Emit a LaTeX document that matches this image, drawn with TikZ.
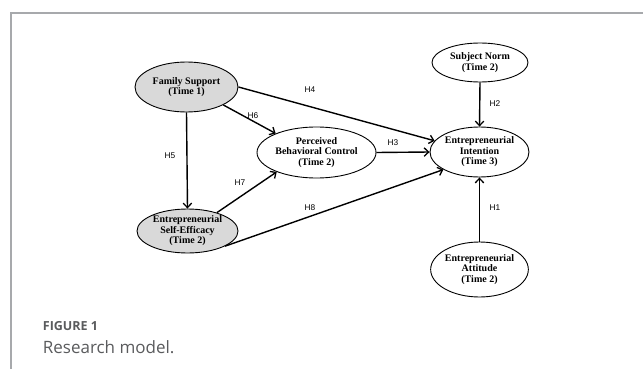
\documentclass[tikz,border=0pt]{standalone}
\usepackage{fontspec}
\usetikzlibrary{shapes.geometric,arrows.meta}
\newfontfamily\diagfont{Liberation Serif}
\newfontfamily\hfont{Liberation Sans}
\newfontfamily\capfont{Open Sans}
\definecolor{framegray}{HTML}{A7A9AC}
\definecolor{capgray}{HTML}{5A5B5D}
\definecolor{nodegray}{HTML}{D9D9D9}
\tikzset{
  ell/.style={ellipse, draw=black, line width=0.9pt, inner sep=0pt, align=center,
    font=\diagfont\bfseries\fontsize{10}{10.5}\selectfont},
  shaded/.style={fill=nodegray},
  arr/.style={line width=1.4pt, -{Straight Barb[length=4.5pt,width=8.5pt,line width=1.3pt]}},
  lbl/.style={font=\hfont\fontsize{8.3}{9}\selectfont, inner sep=0pt},
  frame/.style={draw=framegray, line width=1.5pt}
}
\begin{document}
\begin{tikzpicture}[x=1pt,y=-1pt]
\useasboundingbox (0,0) rectangle (643,369);
% frame
\coordinate (ftr) at (643,13);
\coordinate (ftl) at (11,13);
\coordinate (fbl) at (11,369);
\draw[frame] (ftr) -- (ftl) -- (fbl);
% nodes
\node[ell, shaded, minimum width=103pt, minimum height=50pt] (fs) at (186.5,87) {Family Support\\(Time 1)};
\node[ell, minimum width=96pt, minimum height=39pt] (sn) at (480,62.5) {Subject Norm\\(Time 2)};
\node[ell, minimum width=119pt, minimum height=51pt] (pbc) at (316.5,152.5) {Perceived\\Behavioral Control\\(Time 2)};
\node[ell, minimum width=99pt, minimum height=50pt] (ei) at (479.5,152) {Entrepreneurial\\Intention\\(Time 3)};
\node[ell, shaded, minimum width=101pt, minimum height=44pt] (ese) at (187.5,231) {Entrepreneurial\\Self-Efficacy\\(Time 2)};
\node[ell, minimum width=97pt, minimum height=55pt] (ea) at (479.5,269.5) {Entrepreneurial\\Attitude\\(Time 2)};
% connectors
\draw[arr] (fs.east) -- (ei.166);
\draw[arr] (fs.-26) -- (pbc.155);
\draw[arr] (fs.south) -- (ese.north);
\draw[arr] (ese.32) -- (pbc.206);
\draw[arr] (ese.-22) -- (ei.206);
\draw[arr] (pbc.east) -- (ei.west);
\draw[arr] (sn.south) -- (ei.north);
\draw[arr] (ea.north) -- (ei.south);
% labels
\node[lbl] (h4) at (310,90) {H4};
\node[lbl] (h6) at (253,116) {H6};
\node[lbl] (h5) at (170,156) {H5};
\node[lbl] (h2) at (495,104) {H2};
\node[lbl] (h3) at (393,143) {H3};
\node[lbl] (h7) at (240,183) {H7};
\node[lbl] (h8) at (310,208) {H8};
\node[lbl] (h1) at (495,208) {H1};
% caption
\node[anchor=base west, inner sep=0pt, text=capgray, font=\capfont\bfseries\fontsize{12.5}{14}\selectfont] (figno) at (42.7,330.7) {FIGURE 1};
\node[anchor=base west, inner sep=0pt, text=capgray, font=\capfont\fontsize{17}{19}\selectfont] (figcap) at (42.7,353) {Research model.};
\end{tikzpicture}
\end{document}
